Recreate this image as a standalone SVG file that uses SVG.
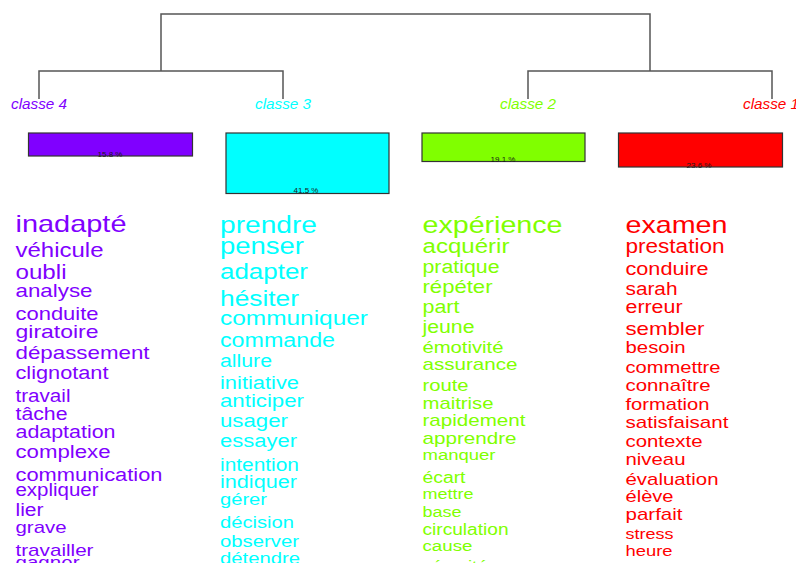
<svg xmlns="http://www.w3.org/2000/svg" width="796" height="563" viewBox="0 0 796 563">
<style>
text{font-family:"Liberation Sans",Arial,sans-serif}
.lbl{font-size:14px;font-style:italic}
.pct{font-size:8px;fill:#1a1a1a;text-anchor:middle}
.box{stroke:#333;stroke-width:1.2}
.dend{fill:none;stroke:#555;stroke-width:1.5}
.c4{fill:#8000FF}.c3{fill:#00FFFF}.c2{fill:#80FF00}.c1{fill:#FF0000}
</style>
<rect width="796" height="563" fill="#fff"/>
<g id="connectors">
<path class="dend" d="M161,71 V14 H650 V71"/>
<path class="dend" d="M39,99 V71 H283 V99"/>
<path class="dend" d="M528,99 V71 H772 V99"/>
</g>
<g id="classe4">
<text class="lbl c4" x="11" y="109" textLength="56" lengthAdjust="spacingAndGlyphs">classe 4</text>
<rect class="box c4" x="28.5" y="133" width="164" height="23"/>
<text class="pct" x="110" y="157">15.8 %</text>
<g class="c4">
<text x="15.5" y="232" font-size="24" textLength="111" lengthAdjust="spacingAndGlyphs">inadapté</text>
<text x="15.5" y="257" font-size="20" textLength="88" lengthAdjust="spacingAndGlyphs">véhicule</text>
<text x="15.5" y="279" font-size="20" textLength="51" lengthAdjust="spacingAndGlyphs">oubli</text>
<text x="15.5" y="297" font-size="18.5" textLength="77" lengthAdjust="spacingAndGlyphs">analyse</text>
<text x="15.5" y="320" font-size="18.5" textLength="83" lengthAdjust="spacingAndGlyphs">conduite</text>
<text x="15.5" y="338" font-size="18.5" textLength="83" lengthAdjust="spacingAndGlyphs">giratoire</text>
<text x="15.5" y="359" font-size="18.5" textLength="134" lengthAdjust="spacingAndGlyphs">dépassement</text>
<text x="15.5" y="379" font-size="18" textLength="93" lengthAdjust="spacingAndGlyphs">clignotant</text>
<text x="15.5" y="402" font-size="17.5" textLength="55" lengthAdjust="spacingAndGlyphs">travail</text>
<text x="15.5" y="420" font-size="17.5" textLength="52" lengthAdjust="spacingAndGlyphs">tâche</text>
<text x="15.5" y="438" font-size="17.5" textLength="100" lengthAdjust="spacingAndGlyphs">adaptation</text>
<text x="15.5" y="458" font-size="18" textLength="95" lengthAdjust="spacingAndGlyphs">complexe</text>
<text x="15.5" y="481" font-size="18" textLength="147" lengthAdjust="spacingAndGlyphs">communication</text>
<text x="15.5" y="496" font-size="17.5" textLength="83" lengthAdjust="spacingAndGlyphs">expliquer</text>
<text x="15.5" y="516" font-size="17.5" textLength="28" lengthAdjust="spacingAndGlyphs">lier</text>
<text x="15.5" y="533" font-size="17" textLength="51" lengthAdjust="spacingAndGlyphs">grave</text>
<text x="15.5" y="556" font-size="17" textLength="78" lengthAdjust="spacingAndGlyphs">travailler</text>
<text x="15.5" y="568" font-size="17" textLength="64" lengthAdjust="spacingAndGlyphs">gagner</text>
</g>
</g>
<g id="classe3">
<text class="lbl c3" x="255" y="109" textLength="56" lengthAdjust="spacingAndGlyphs">classe 3</text>
<rect class="box c3" x="226" y="133" width="163" height="60.5"/>
<text class="pct" x="306" y="193">41.5 %</text>
<g class="c3">
<text x="220" y="233" font-size="23" textLength="97" lengthAdjust="spacingAndGlyphs">prendre</text>
<text x="220" y="254" font-size="23" textLength="84" lengthAdjust="spacingAndGlyphs">penser</text>
<text x="220" y="279" font-size="22" textLength="88" lengthAdjust="spacingAndGlyphs">adapter</text>
<text x="220" y="306" font-size="22" textLength="79" lengthAdjust="spacingAndGlyphs">hésiter</text>
<text x="220" y="325" font-size="20.5" textLength="148" lengthAdjust="spacingAndGlyphs">communiquer</text>
<text x="220" y="347" font-size="19.5" textLength="115" lengthAdjust="spacingAndGlyphs">commande</text>
<text x="220" y="367" font-size="18" textLength="52" lengthAdjust="spacingAndGlyphs">allure</text>
<text x="220" y="389" font-size="18" textLength="79" lengthAdjust="spacingAndGlyphs">initiative</text>
<text x="220" y="407" font-size="18.5" textLength="84" lengthAdjust="spacingAndGlyphs">anticiper</text>
<text x="220" y="427" font-size="18.5" textLength="68" lengthAdjust="spacingAndGlyphs">usager</text>
<text x="220" y="447" font-size="18" textLength="77" lengthAdjust="spacingAndGlyphs">essayer</text>
<text x="220" y="471" font-size="17.5" textLength="79" lengthAdjust="spacingAndGlyphs">intention</text>
<text x="220" y="488" font-size="17.5" textLength="77" lengthAdjust="spacingAndGlyphs">indiquer</text>
<text x="220" y="505" font-size="17" textLength="47" lengthAdjust="spacingAndGlyphs">gérer</text>
<text x="220" y="528" font-size="17" textLength="74" lengthAdjust="spacingAndGlyphs">décision</text>
<text x="220" y="547" font-size="17" textLength="79" lengthAdjust="spacingAndGlyphs">observer</text>
<text x="220" y="564" font-size="17" textLength="80" lengthAdjust="spacingAndGlyphs">détendre</text>
</g>
</g>
<g id="classe2">
<text class="lbl c2" x="500" y="109" textLength="56" lengthAdjust="spacingAndGlyphs">classe 2</text>
<rect class="box c2" x="422" y="133" width="163" height="28.5"/>
<text class="pct" x="503" y="162">19.1 %</text>
<g class="c2">
<text x="422.5" y="233" font-size="24" textLength="140" lengthAdjust="spacingAndGlyphs">expérience</text>
<text x="422.5" y="253" font-size="20" textLength="87" lengthAdjust="spacingAndGlyphs">acquérir</text>
<text x="422.5" y="273" font-size="18" textLength="77" lengthAdjust="spacingAndGlyphs">pratique</text>
<text x="422.5" y="293" font-size="18.5" textLength="70" lengthAdjust="spacingAndGlyphs">répéter</text>
<text x="422.5" y="313" font-size="18" textLength="37" lengthAdjust="spacingAndGlyphs">part</text>
<text x="422.5" y="333" font-size="18" textLength="52" lengthAdjust="spacingAndGlyphs">jeune</text>
<text x="422.5" y="353" font-size="17" textLength="81" lengthAdjust="spacingAndGlyphs">émotivité</text>
<text x="422.5" y="370" font-size="17" textLength="95" lengthAdjust="spacingAndGlyphs">assurance</text>
<text x="422.5" y="391" font-size="17" textLength="46" lengthAdjust="spacingAndGlyphs">route</text>
<text x="422.5" y="409" font-size="17" textLength="71" lengthAdjust="spacingAndGlyphs">maitrise</text>
<text x="422.5" y="426" font-size="17" textLength="103" lengthAdjust="spacingAndGlyphs">rapidement</text>
<text x="422.5" y="444" font-size="17" textLength="94" lengthAdjust="spacingAndGlyphs">apprendre</text>
<text x="422.5" y="460" font-size="15.5" textLength="73" lengthAdjust="spacingAndGlyphs">manquer</text>
<text x="422.5" y="483" font-size="16" textLength="43" lengthAdjust="spacingAndGlyphs">écart</text>
<text x="422.5" y="499" font-size="15.5" textLength="51" lengthAdjust="spacingAndGlyphs">mettre</text>
<text x="422.5" y="517" font-size="15.5" textLength="39" lengthAdjust="spacingAndGlyphs">base</text>
<text x="422.5" y="535" font-size="16" textLength="86" lengthAdjust="spacingAndGlyphs">circulation</text>
<text x="422.5" y="551" font-size="15.5" textLength="50" lengthAdjust="spacingAndGlyphs">cause</text>
<text x="422.5" y="571" font-size="15.5" textLength="65" lengthAdjust="spacingAndGlyphs">sécurité</text>
</g>
</g>
<g id="classe1">
<text class="lbl c1" x="743" y="109" textLength="56" lengthAdjust="spacingAndGlyphs">classe 1</text>
<rect class="box c1" x="618.5" y="133" width="164" height="34"/>
<text class="pct" x="699" y="168">23.6 %</text>
<g class="c1">
<text x="625.5" y="233" font-size="24" textLength="102" lengthAdjust="spacingAndGlyphs">examen</text>
<text x="625.5" y="253" font-size="19.5" textLength="99" lengthAdjust="spacingAndGlyphs">prestation</text>
<text x="625.5" y="275" font-size="18" textLength="83" lengthAdjust="spacingAndGlyphs">conduire</text>
<text x="625.5" y="295" font-size="17.5" textLength="52" lengthAdjust="spacingAndGlyphs">sarah</text>
<text x="625.5" y="313" font-size="18" textLength="57" lengthAdjust="spacingAndGlyphs">erreur</text>
<text x="625.5" y="335" font-size="18.5" textLength="79" lengthAdjust="spacingAndGlyphs">sembler</text>
<text x="625.5" y="353" font-size="17" textLength="60" lengthAdjust="spacingAndGlyphs">besoin</text>
<text x="625.5" y="373" font-size="17" textLength="95" lengthAdjust="spacingAndGlyphs">commettre</text>
<text x="625.5" y="391" font-size="17" textLength="85" lengthAdjust="spacingAndGlyphs">connaître</text>
<text x="625.5" y="410" font-size="17" textLength="84" lengthAdjust="spacingAndGlyphs">formation</text>
<text x="625.5" y="428" font-size="17" textLength="103" lengthAdjust="spacingAndGlyphs">satisfaisant</text>
<text x="625.5" y="447" font-size="17" textLength="77" lengthAdjust="spacingAndGlyphs">contexte</text>
<text x="625.5" y="465" font-size="17" textLength="60" lengthAdjust="spacingAndGlyphs">niveau</text>
<text x="625.5" y="485" font-size="17" textLength="93" lengthAdjust="spacingAndGlyphs">évaluation</text>
<text x="625.5" y="502" font-size="17" textLength="48" lengthAdjust="spacingAndGlyphs">élève</text>
<text x="625.5" y="520" font-size="17" textLength="57" lengthAdjust="spacingAndGlyphs">parfait</text>
<text x="625.5" y="539" font-size="15" textLength="48" lengthAdjust="spacingAndGlyphs">stress</text>
<text x="625.5" y="556" font-size="15.5" textLength="47" lengthAdjust="spacingAndGlyphs">heure</text>
</g>
</g>
</svg>
